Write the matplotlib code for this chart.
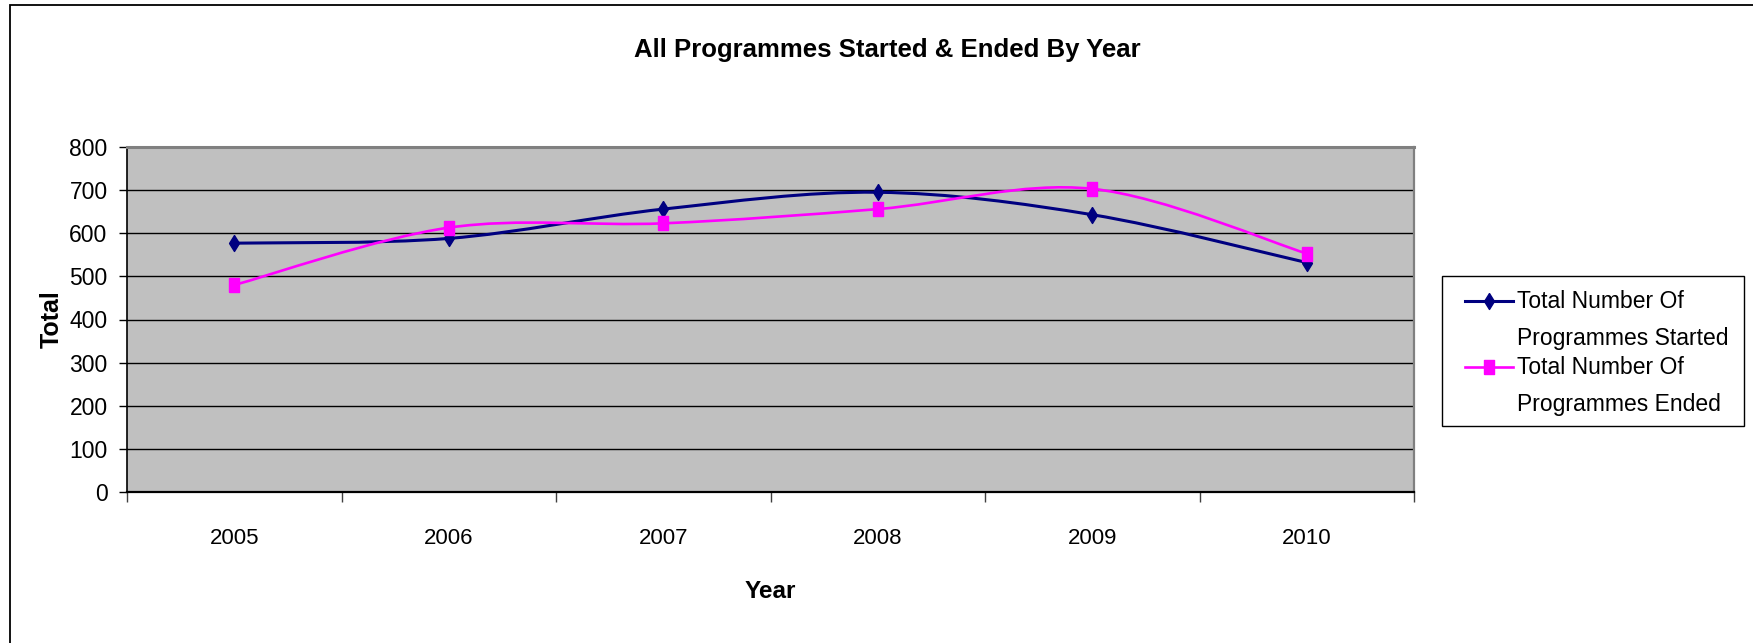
import numpy as np
import matplotlib
matplotlib.use('Agg')
import matplotlib.pyplot as plt
from matplotlib.path import Path
from matplotlib.patches import PathPatch, Rectangle
from matplotlib.lines import Line2D

plt.rcParams['font.family'] = ['Liberation Sans', 'DejaVu Sans']

years = ['2005', '2006', '2007', '2008', '2009', '2010']
started = [577, 588, 656, 695, 643, 532]
ended = [480, 613, 623, 656, 703, 553]
series_names = ['Total Number Of\nProgrammes Started', 'Total Number Of\nProgrammes Ended']
y_ticks = [0, 100, 200, 300, 400, 500, 600, 700, 800]

W, H = 1753, 643
NAVY = '#000080'
PINK = '#FF00FF'

# tall markers, like the stretched excel render
diamond = [(0, 1), (0.62, 0), (0, -1), (-0.62, 0), (0, 1)]
square = [(-0.7, -1), (0.7, -1), (0.7, 1), (-0.7, 1), (-0.7, -1)]


def fx(px):
    return px / W


def fy(py):
    return 1 - py / H


def smooth_path(xs, ys):
    # excel style smoothing: catmull-rom turned into cubic beziers
    pts = np.column_stack([xs, ys]).astype(float)
    n = len(pts)
    verts = [pts[0]]
    codes = [Path.MOVETO]
    for i in range(n - 1):
        p0 = pts[max(i - 1, 0)]
        p1 = pts[i]
        p2 = pts[i + 1]
        p3 = pts[min(i + 2, n - 1)]
        verts += [p1 + (p2 - p0) / 6, p2 - (p3 - p1) / 6, p2]
        codes += [Path.CURVE4] * 3
    return Path(verts, codes)


fig = plt.figure(figsize=(W / 100, H / 100), dpi=100)
ax = fig.add_axes([fx(127), fy(492), fx(1414 - 127), (492 - 147) / H])
ax.set_facecolor('#C0C0C0')

styles = [(started, NAVY, 2.2, diamond, 11.5), (ended, PINK, 1.9, square, 10)]

x = np.arange(1, len(years) + 1)
for vals, col, lw, mk, ms in styles:
    ax.add_patch(PathPatch(smooth_path(x, vals), fill=False, edgecolor=col, lw=lw,
                           zorder=3, capstyle='round', joinstyle='round'))
    ax.plot(x, vals, ls='none', marker=mk, ms=ms, color=col, mec=col, zorder=4)

ax.set_xlim(0.5, len(years) + 0.5)
ax.set_ylim(0, 800)
ax.set_yticks(y_ticks)
ax.yaxis.grid(True, color='black', lw=1.0)
ax.set_axisbelow(True)
ax.tick_params(axis='y', direction='out', length=6, width=1, pad=8, labelsize=16.5)

ax.set_xticks(np.arange(0.5, len(years) + 1, 1))
ax.set_xticklabels([])
ax.set_xticks(x, minor=True)
ax.set_xticklabels(years, minor=True)
ax.tick_params(axis='x', which='major', direction='out', length=7, width=1, color='#404040')
ax.tick_params(axis='x', which='minor', length=0, pad=26, labelsize=16)

for side, col, lw in [('left', 'black', 1.2), ('bottom', 'black', 1.6),
                      ('top', '#808080', 2.2), ('right', '#808080', 1.6)]:
    ax.spines[side].set_color(col)
    ax.spines[side].set_linewidth(lw)

fig.text(fx(887), fy(50), 'All Programmes Started & Ended By Year', ha='center', va='center',
         fontsize=18.5, fontweight='bold')
fig.text(fx(770), fy(591), 'Year', ha='center', va='center', fontsize=17.5, fontweight='bold')
fig.text(fx(52), fy(319), 'Total', ha='center', va='center', rotation=90,
         fontsize=18, fontweight='bold')

# outer chart border
fig.patches.append(Rectangle((fx(10), fy(700)), 1.2, fy(5) - fy(700), transform=fig.transFigure,
                             fill=False, edgecolor='black', lw=1.3))

# legend box, drawn by hand so the marker sits on the first text line
fig.patches.append(Rectangle((fx(1442), fy(426)), fx(1744 - 1442), (426 - 276) / H,
                             transform=fig.transFigure, facecolor='white',
                             edgecolor='black', lw=1.0))
for k, (name, (vals, col, lw, mk, ms)) in enumerate(zip(series_names, styles)):
    y0 = 301 + k * 66
    fig.add_artist(Line2D([fx(1465), fx(1513)], [fy(y0), fy(y0)], color=col, lw=lw,
                          transform=fig.transFigure))
    fig.add_artist(Line2D([fx(1489)], [fy(y0)], color=col, marker=mk, ms=ms, ls='none',
                          transform=fig.transFigure))
    for j, line in enumerate(name.split('\n')):
        fig.text(fx(1517), fy(y0 + 7 + j * 37), line, ha='left', va='baseline', fontsize=16.5)

fig.savefig('out.png', dpi=100)
